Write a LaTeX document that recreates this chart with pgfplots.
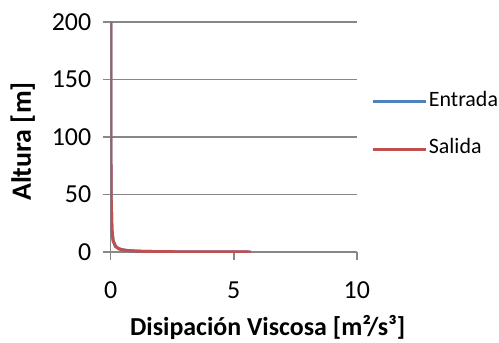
\documentclass[border=0pt]{standalone}
\usepackage{fontspec}
\setmainfont{Carlito}
\usepackage{pgfplots}
\pgfplotsset{compat=1.18}
\definecolor{entrada}{HTML}{4F81BD}
\definecolor{salida}{HTML}{C0504D}
\definecolor{gridgray}{HTML}{878787}
\begin{document}
\begin{tikzpicture}
\begin{axis}[
  at={(0,0)}, anchor=south west,
  scale only axis, width=247bp, height=231bp,
  xmin=0, xmax=10, ymin=0, ymax=200,
  xtick={0,5,10}, ytick={0,50,100,150,200},
  axis x line*=bottom, axis y line*=left,
  axis line style={gridgray, line width=1.5bp, -},
  tick style={gridgray, line width=1.5bp},
  tick align=outside, major tick length=8bp,
  ymajorgrids, grid style={gridgray, line width=1.5bp},
  /pgf/number format/assume math mode=true,
  tick label style={font=\fontsize{26bp}{30bp}\selectfont},
  xticklabel style={yshift=-18bp},
  yticklabel style={xshift=-8bp},
  xlabel={\bfseries Disipación Viscosa [m²/s³]},
  ylabel={\bfseries Altura [m]},
  xlabel style={font=\fontsize{26bp}{30bp}\selectfont, yshift=-10bp, xshift=34bp},
  ylabel style={font=\fontsize{28bp}{30bp}\selectfont, yshift=10bp, xshift=-4.5bp},
  legend cell align=left,
  legend style={draw=none, fill=none, at={(rel axis cs:1.057,0.552)}, anchor=west,
    font=\fontsize{22bp}{26bp}\selectfont, row sep=26bp, inner sep=0pt,
    nodes={inner sep=1bp, text height=15bp, text depth=5bp}},
  legend image code/.code={\draw[#1, line width=3pt] (0bp,0bp) -- (54bp,0bp);},
]
\addplot[entrada, line width=3pt] coordinates {
  (5.7,0.175) (5.0,0.2) (4.0,0.25) (3.33,0.3) (2.5,0.4) (2.0,0.5) (1.33,0.75)
  (1.0,1) (0.67,1.5) (0.5,2) (0.33,3) (0.2,5) (0.1,10) (0.05,20)
  (0.02,50) (0.01,100) (0.005,200)};
\addlegendentry{Entrada}
\addplot[salida, line width=3pt] coordinates {
  (5.7,0.175) (5.0,0.2) (4.0,0.25) (3.33,0.3) (2.5,0.4) (2.0,0.5) (1.33,0.75)
  (1.0,1) (0.67,1.5) (0.5,2) (0.33,3) (0.2,5) (0.1,10) (0.05,20)
  (0.02,50) (0.01,100) (0.005,200)};
\addlegendentry{Salida}
\end{axis}
\useasboundingbox (-111bp,-89bp) rectangle (388bp,253bp);
\end{tikzpicture}
\end{document}
